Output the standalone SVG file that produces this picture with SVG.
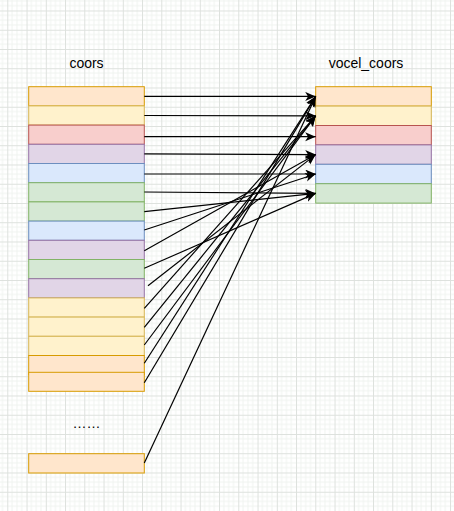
<svg xmlns="http://www.w3.org/2000/svg" width="454" height="511" viewBox="0 0 454 511">
  <defs>
    <pattern id="grid" patternUnits="userSpaceOnUse" x="7.3" y="10.5" width="19.25" height="19.25">
      <path d="M4.81,0V19.25M9.63,0V19.25M14.44,0V19.25M0,4.81H19.25M0,9.63H19.25M0,14.44H19.25" stroke="#f0f3f0" stroke-width="1" fill="none"/>
      <path d="M0.5,0V19.25M0,0.5H19.25" stroke="#dde1dd" stroke-width="1" fill="none"/>
    </pattern>
    <marker id="arr" markerUnits="userSpaceOnUse" markerWidth="12" markerHeight="10" refX="10.5" refY="4.5" orient="auto" viewBox="0 0 12 10">
      <path d="M0,0 L10.5,4.5 L0,9 L2.8,4.5 Z" fill="#000"/>
    </marker>
    <style>
      .o{fill:#ffe6cc;stroke:#d79b00;stroke-width:1}
      .y{fill:#fff2cc;stroke:#d6b656;stroke-width:1}
      .r{fill:#f8cecc;stroke:#b85450;stroke-width:1}
      .p{fill:#e1d5e7;stroke:#9673a6;stroke-width:1}
      .b{fill:#dae8fc;stroke:#6c8ebf;stroke-width:1}
      .g{fill:#d5e8d4;stroke:#82b366;stroke-width:1}
      .t{font-family:"Liberation Sans",Arial,sans-serif;font-size:14px;fill:#000;text-anchor:middle}
      #edges path{stroke:#000;stroke-width:1.2;fill:none;marker-end:url(#arr)}
    </style>
  </defs>
  <rect width="454" height="511" fill="#ffffff"/>
  <rect width="454" height="511" fill="url(#grid)"/>

  <g id="label-coors"><text class="t" x="86.5" y="67.5">coors</text></g>
  <g id="label-vocel"><text class="t" x="366" y="67.5">vocel_coors</text></g>

  <g id="coors">
    <rect id="c1" class="o" x="28.7" y="86.7" width="115.6" height="19.2"/>
    <rect id="c2" class="y" x="28.7" y="105.9" width="115.6" height="19.2"/>
    <rect id="c3" class="r" x="28.7" y="125.1" width="115.6" height="19.2"/>
    <rect id="c4" class="p" x="28.7" y="144.3" width="115.6" height="19.2"/>
    <rect id="c5" class="b" x="28.7" y="163.5" width="115.6" height="19.2"/>
    <rect id="c6" class="g" x="28.7" y="182.7" width="115.6" height="19.2"/>
    <rect id="c7" class="g" x="28.7" y="201.9" width="115.6" height="19.2"/>
    <rect id="c8" class="b" x="28.7" y="221.1" width="115.6" height="19.2"/>
    <rect id="c9" class="p" x="28.7" y="240.3" width="115.6" height="19.2"/>
    <rect id="c10" class="g" x="28.7" y="259.5" width="115.6" height="19.2"/>
    <rect id="c11" class="p" x="28.7" y="278.7" width="115.6" height="19.2"/>
    <rect id="c12" class="y" x="28.7" y="297.9" width="115.6" height="19.2"/>
    <rect id="c13" class="y" x="28.7" y="317.1" width="115.6" height="19.2"/>
    <rect id="c14" class="y" x="28.7" y="336.3" width="115.6" height="19.2"/>
    <rect id="c15" class="o" x="28.7" y="355.5" width="115.6" height="19.2"/>
    <rect id="c16" class="o" x="28.7" y="372.3" width="115.6" height="19"/>
    <rect id="c17" class="o" x="28.7" y="453.7" width="115.6" height="19.3"/>
  </g>

  <g id="dots"><text class="t" x="86.5" y="428">……</text></g>

  <g id="vocel_coors">
    <rect id="v1" class="o" x="315.7" y="86.7" width="115.6" height="19.4"/>
    <rect id="v2" class="y" x="315.7" y="106.1" width="115.6" height="19.4"/>
    <rect id="v3" class="r" x="315.7" y="125.5" width="115.6" height="19.4"/>
    <rect id="v4" class="p" x="315.7" y="144.9" width="115.6" height="19.4"/>
    <rect id="v5" class="b" x="315.7" y="164.3" width="115.6" height="19.4"/>
    <rect id="v6" class="g" x="315.7" y="183.7" width="115.6" height="19.4"/>
  </g>

  <g id="edges">
    <path d="M144.3,96.3 L315.7,96.4"/>
    <path d="M144.3,115.5 L315.7,115.8"/>
    <path d="M144.3,136.7 L315.7,136.7"/>
    <path d="M144.3,153.8 L315.7,154.6"/>
    <path d="M144.3,174 L315.7,174"/>
    <path d="M144.3,192 L315.7,193.4"/>
    <path d="M144.3,211.7 L315.7,193.4"/>
    <path d="M144.3,230 L315.7,174"/>
    <path d="M144.3,250.7 L315.7,154.6"/>
    <path d="M144.3,268.3 L315.7,193.4"/>
    <path d="M148,285.7 L315.7,154.6"/>
    <path d="M144.3,308.3 L315.7,115.8"/>
    <path d="M144.3,327.3 L315.7,115.8"/>
    <path d="M144.3,345 L315.7,115.8"/>
    <path d="M144.3,363.3 L315.7,96.4"/>
    <path d="M144.3,382.7 L315.7,96.4"/>
    <path d="M144.3,463 L315.7,96.4"/>
  </g>
</svg>
